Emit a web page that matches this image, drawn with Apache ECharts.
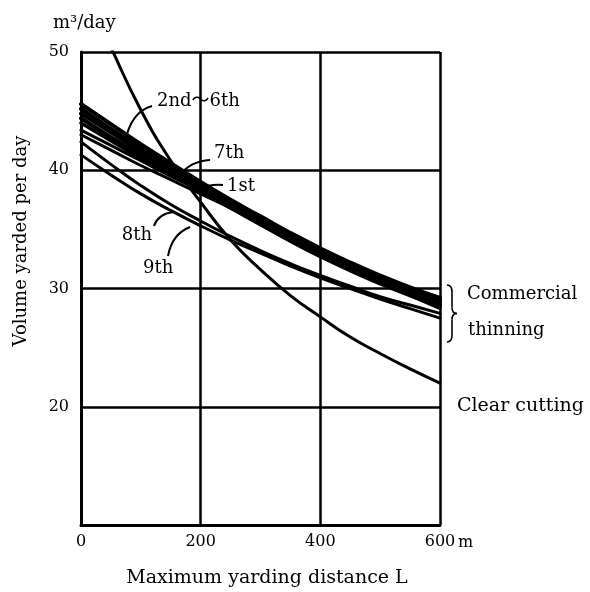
<!DOCTYPE html>
<html>
<head>
<meta charset="utf-8">
<script src="https://cdn.jsdelivr.net/npm/echarts@6/dist/echarts.min.js"></script>
<style>
  html, body { margin: 0; padding: 0; background: #fff; }
  #chart { width: 590px; height: 592px; }
</style>
</head>
<body>
<div id="chart"></div>
<script>
// Maximum yarding distance L (m) at which the thinning curves are read
const distances = [0, 50, 100, 150, 200, 250, 300, 350, 400, 450, 500, 550, 600];

// Volume yarded per day (m3/day), commercial thinning, by thinning order
const thin1st = [43.0, 41.7, 40.4, 39.2, 38.0, 36.8, 35.5, 34.2, 32.9, 31.7, 30.5, 29.4, 28.3];
const thin2nd = [45.6, 43.9, 42.2, 40.6, 39.0, 37.5, 36.1, 34.7, 33.4, 32.2, 31.1, 30.1, 29.2];
const thin3rd = [45.2, 43.5, 41.9, 40.3, 38.8, 37.3, 35.9, 34.5, 33.2, 32.0, 30.9, 29.9, 29.0];
const thin4th = [44.8, 43.2, 41.6, 40.1, 38.6, 37.1, 35.7, 34.3, 33.0, 31.8, 30.7, 29.7, 28.8];
const thin5th = [44.4, 42.8, 41.3, 39.8, 38.4, 36.9, 35.5, 34.1, 32.8, 31.6, 30.5, 29.5, 28.6];
const thin6th = [44.0, 42.5, 41.0, 39.6, 38.2, 36.8, 35.4, 34.0, 32.7, 31.5, 30.4, 29.4, 28.5];
const thin7th = [43.4, 42.1, 40.8, 39.5, 38.3, 37.0, 35.7, 34.4, 33.1, 31.9, 30.7, 29.6, 28.6];
const thin8th = [42.4, 40.5, 38.7, 37.1, 35.7, 34.4, 33.2, 32.1, 31.1, 30.2, 29.3, 28.6, 27.9];
const thin9th = [41.3, 39.6, 38.0, 36.6, 35.3, 34.1, 33.0, 31.9, 30.9, 30.0, 29.1, 28.3, 27.5];

// Clear cutting curve (leaves the top of the frame near L = 53 m)
const clearCutDistances = [40, 50, 100, 150, 200, 250, 300, 350, 400, 450, 500, 550, 600];
const clearCutVolume    = [51.6, 50.4, 45.1, 40.8, 37.3, 34.1, 31.6, 29.4, 27.6, 25.9, 24.5, 23.2, 22.0];

// Axis ticks
const xTickValues = [0, 200, 400, 600];
const yTickLabels = [20, 30, 40, 50];

const FONT = '"DejaVu Serif", "Liberation Serif", "Noto Sans CJK JP", serif';
const INK = '#000';

const thinningSets = [
  { name: '1st', values: thin1st, width: 3 },
  { name: '2nd', values: thin2nd, width: 4 },
  { name: '3rd', values: thin3rd, width: 4 },
  { name: '4th', values: thin4th, width: 4 },
  { name: '5th', values: thin5th, width: 4 },
  { name: '6th', values: thin6th, width: 3.5 },
  { name: '7th', values: thin7th, width: 3 },
  { name: '8th', values: thin8th, width: 3 },
  { name: '9th', values: thin9th, width: 3 }
];

function lineSeries(name, xs, ys, width) {
  return {
    name: name,
    type: 'line',
    data: xs.map((x, i) => [x, ys[i]]),
    showSymbol: false,
    symbol: 'none',
    smooth: 0.5,
    clip: true,
    silent: true,
    lineStyle: { color: INK, width: width, cap: 'round', join: 'round' },
    z: 3
  };
}

const series = thinningSets.map(s => lineSeries(s.name, distances, s.values, s.width));
const clearCut = lineSeries('Clear cutting', clearCutDistances, clearCutVolume, 3);
clearCut.z = 4;
series.push(clearCut);

const chart = echarts.init(document.getElementById('chart'), null, { renderer: 'canvas' });

chart.setOption({
  animation: false,
  backgroundColor: '#fff',
  grid: { left: 81, right: 150, top: 52, bottom: 67, containLabel: false },
  xAxis: {
    type: 'value',
    min: 0,
    max: 600,
    interval: 200,
    axisLine: { show: true, lineStyle: { color: INK, width: 3 } },
    axisTick: { show: false },
    splitLine: { show: true, lineStyle: { color: INK, width: 2.5 } },
    axisLabel: {
      color: INK,
      fontFamily: FONT,
      fontSize: 16,
      margin: 9,
      formatter: v => (xTickValues.indexOf(v) >= 0 ? String(v) : '')
    }
  },
  yAxis: {
    type: 'value',
    min: 10,
    max: 50,
    interval: 10,
    axisLine: { show: true, lineStyle: { color: INK, width: 3 } },
    axisTick: { show: false },
    splitLine: { show: true, lineStyle: { color: INK, width: 2.5 } },
    axisLabel: {
      color: INK,
      fontFamily: FONT,
      fontSize: 16,
      margin: 12,
      padding: [6, 0, 0, 0],
      formatter: v => (yTickLabels.indexOf(v) >= 0 ? String(v) : '')
    }
  },
  series: series
});

// Annotations: leaders, labels, brace and axis titles
const P = (L, V) => chart.convertToPixel({ gridIndex: 0 }, [L, V]);

function text(str, x, y, size, align, extra) {
  return Object.assign({
    type: 'text',
    x: x,
    y: y,
    z: 10,
    silent: true,
    style: {
      text: str,
      fill: INK,
      font: size + 'px ' + FONT,
      fontSize: size,
      fontFamily: FONT,
      textAlign: align,
      align: align,
      textVerticalAlign: 'middle',
      verticalAlign: 'middle'
    }
  }, extra || {});
}

function leader(a, c, b, w) {
  const p1 = P(a[0], a[1]);
  const pc = P(c[0], c[1]);
  const p2 = P(b[0], b[1]);
  return {
    type: 'bezierCurve',
    z: 9,
    silent: true,
    shape: { x1: p1[0], y1: p1[1], cpx1: pc[0], cpy1: pc[1], x2: p2[0], y2: p2[1] },
    style: { stroke: INK, lineWidth: w || 2, fill: null }
  };
}

const g = [];

// Curve labels with their leaders
let t = P(127, 45.86);
g.push(text('2nd～6th', t[0], t[1], 18, 'left'));
g.push(leader([118.7, 45.43], [82.7, 44.93], [73.5, 42.3]));

t = P(222.3, 41.46);
g.push(text('7th', t[0], t[1], 18, 'left'));
g.push(leader([215.6, 40.87], [182.2, 40.79], [162.1, 39.43]));

t = P(244, 38.67);
g.push(text('1st', t[0], t[1], 18, 'left'));
g.push(leader([237.3, 38.75], [215.6, 38.84], [195.5, 38.41]));

t = P(118.7, 34.52);
g.push(text('8th', t[0], t[1], 18, 'right'));
g.push(leader([122, 35.29], [128.7, 36.3], [153.8, 36.47]));

t = P(103.6, 31.73);
g.push(text('9th', t[0], t[1], 18, 'left'));
g.push(leader([145.4, 32.75], [152.1, 34.61], [182.2, 35.2]));

// Right-hand group labels
const xr = P(600, 30)[0];
const yTop = P(600, 30.3)[1];
const yBot = P(600, 25.48)[1];
const yMid = (yTop + yBot) / 2;
const bx = xr + 12;
const braceStyle = { stroke: INK, lineWidth: 1.6, fill: null };
g.push({ type: 'bezierCurve', z: 9, silent: true,
  shape: { x1: xr + 7, y1: yTop, cpx1: bx, cpy1: yTop, x2: bx, y2: yTop + 7 }, style: braceStyle });
g.push({ type: 'line', z: 9, silent: true,
  shape: { x1: bx, y1: yTop + 7, x2: bx, y2: yMid - 6 }, style: braceStyle });
g.push({ type: 'bezierCurve', z: 9, silent: true,
  shape: { x1: bx, y1: yMid - 6, cpx1: bx, cpy1: yMid, x2: bx + 5, y2: yMid }, style: braceStyle });
g.push({ type: 'bezierCurve', z: 9, silent: true,
  shape: { x1: bx + 5, y1: yMid, cpx1: bx, cpy1: yMid, x2: bx, y2: yMid + 6 }, style: braceStyle });
g.push({ type: 'line', z: 9, silent: true,
  shape: { x1: bx, y1: yMid + 6, x2: bx, y2: yBot - 7 }, style: braceStyle });
g.push({ type: 'bezierCurve', z: 9, silent: true,
  shape: { x1: bx, y1: yBot - 7, cpx1: bx, cpy1: yBot, x2: xr + 7, y2: yBot }, style: braceStyle });

g.push(text('Commercial', xr + 27, P(600, 29.53)[1], 18, 'left'));
g.push(text('thinning', xr + 28, P(600, 26.49)[1], 18, 'left'));
g.push(text('Clear cutting', xr + 17, P(600, 20.06)[1], 19, 'left'));

// Units and axis titles
const bottomY = P(0, 10)[1];
g.push(text('m', xr + 18, bottomY + 18, 16, 'left'));
g.push(text('m³/day', 53, 23, 18, 'left'));
g.push(text('Volume yarded per day', 21, 241, 18, 'center', { rotation: Math.PI / 2 }));
g.push(text('Maximum yarding distance L', 267, 578, 19, 'center'));

chart.setOption({ graphic: { elements: g } });
</script>
</body>
</html>
